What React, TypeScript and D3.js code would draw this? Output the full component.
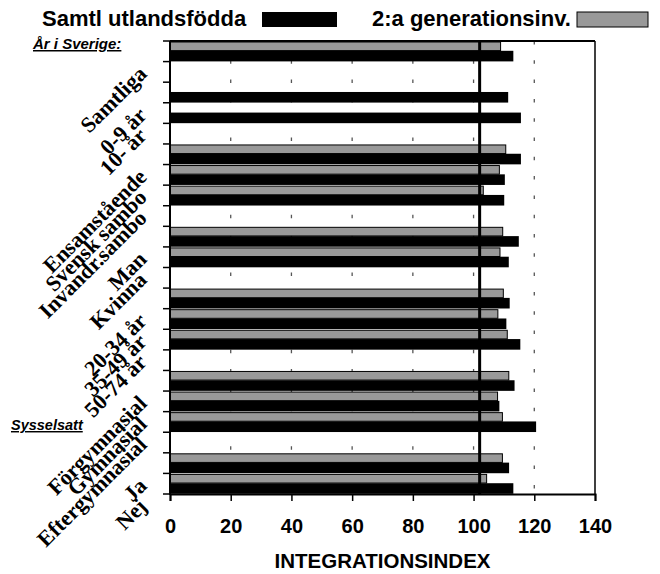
import { useRef, useEffect } from 'react'
import * as d3 from 'd3'

// Categories top to bottom; empty strings are the gaps between groups
const categories = [
  'Samtliga', '', '0-9 år', '10- år', '',
  'Ensamstående', 'Svensk sambo', 'Invandr.sambo', '',
  'Man', 'Kvinna', '',
  '20-34 år', '35-49 år', '50-74 år', '',
  'Förgymnasial', 'Gymnasial', 'Eftergymnasial', '',
  'Ja', 'Nej'
]

// Samtl utlandsfödda (black)
const foreignBorn: (number | null)[] = [
  113.1, null, 111.4, 115.6, null,
  115.6, 110.3, 110.1, null,
  114.9, 111.6, null,
  111.9, 110.8, 115.4, null,
  113.5, 108.5, 120.6, null,
  111.7, 113.1
]

// 2:a generationsinv. (gray)
const secondGen: (number | null)[] = [
  108.9, null, null, null, null,
  110.6, 108.5, 103.2, null,
  109.6, 108.7, null,
  109.8, 108.0, 111.1, null,
  111.6, 107.9, 109.5, null,
  109.5, 104.3
]

const xTicks = [0, 20, 40, 60, 80, 100, 120, 140]
const gridValues = [20, 40, 60, 80, 100, 120]
const referenceValue = 102

const W = 660
const H = 574
const margin = { top: 41, right: 65, bottom: 80, left: 170 }

export default function App() {
  const svgRef = useRef<SVGSVGElement>(null)

  useEffect(() => {
    if (!svgRef.current) return
    const svg = d3.select(svgRef.current)
    svg.selectAll('*').remove()

    const x = d3.scaleLinear().domain([0, 140]).range([margin.left, W - margin.right])
    const y = d3.scaleBand<number>()
      .domain(d3.range(categories.length))
      .range([margin.top, H - margin.bottom])
      .padding(0)
    const bw = y.bandwidth()
    const top = margin.top
    const bottom = H - margin.bottom

    // dashed grid
    svg.append('g')
      .selectAll('line')
      .data(gridValues)
      .enter()
      .append('line')
      .attr('x1', d => x(d))
      .attr('x2', d => x(d))
      .attr('y1', top)
      .attr('y2', bottom)
      .attr('stroke', '#555')
      .attr('stroke-width', 1.3)
      .attr('stroke-dasharray', '3.5,15.8')

    // gray bars
    svg.append('g')
      .selectAll('rect')
      .data(secondGen.map((v, i) => ({ v, i })).filter(d => d.v != null))
      .enter()
      .append('rect')
      .attr('x', x(0))
      .attr('y', d => (y(d.i) as number) + 1)
      .attr('width', d => x(d.v as number) - x(0))
      .attr('height', 8.6)
      .attr('fill', '#999999')
      .attr('stroke', '#000')
      .attr('stroke-width', 1)

    // black bars
    svg.append('g')
      .selectAll('rect')
      .data(foreignBorn.map((v, i) => ({ v, i })).filter(d => d.v != null))
      .enter()
      .append('rect')
      .attr('x', x(0))
      .attr('y', d => (y(d.i) as number) + 9.8)
      .attr('width', d => x(d.v as number) - x(0))
      .attr('height', 10.6)
      .attr('fill', '#000')

    // reference line
    svg.append('line')
      .attr('x1', x(referenceValue))
      .attr('x2', x(referenceValue))
      .attr('y1', top)
      .attr('y2', bottom)
      .attr('stroke', '#000')
      .attr('stroke-width', 3)

    // frame
    svg.append('line').attr('x1', x(0)).attr('x2', x(140)).attr('y1', top).attr('y2', top)
      .attr('stroke', '#000').attr('stroke-width', 2)
    svg.append('line').attr('x1', x(140)).attr('x2', x(140)).attr('y1', top).attr('y2', bottom)
      .attr('stroke', '#000').attr('stroke-width', 1.5)
    svg.append('line').attr('x1', x(0)).attr('x2', x(0)).attr('y1', top).attr('y2', bottom + 1)
      .attr('stroke', '#000').attr('stroke-width', 2)

    // left ticks at category boundaries
    svg.append('g')
      .selectAll('line')
      .data(d3.range(categories.length + 1))
      .enter()
      .append('line')
      .attr('x1', x(0) - 7)
      .attr('x2', x(0))
      .attr('y1', d => top + d * bw)
      .attr('y2', d => top + d * bw)
      .attr('stroke', '#000')
      .attr('stroke-width', 1.5)

    // bottom axis
    const xAxis = d3.axisBottom(x)
      .tickValues(xTicks)
      .tickSize(7)
      .tickPadding(17.8)
      .tickFormat(d => String(d))
    const ax = svg.append('g')
      .attr('transform', `translate(0,${bottom})`)
      .call(xAxis as any)
    ax.select('.domain').attr('stroke', '#000').attr('stroke-width', 2)
    ax.selectAll('.tick line').attr('stroke', '#000').attr('stroke-width', 1.5)
    ax.selectAll('.tick text')
      .attr('fill', '#000')
      .attr('font-family', '"Liberation Sans", Arial, sans-serif')
      .attr('font-weight', 'bold')
      .attr('font-size', 20)

    svg.append('text')
      .attr('x', (x(0) + x(140)) / 2)
      .attr('y', 568)
      .attr('text-anchor', 'middle')
      .attr('font-family', '"Liberation Sans", Arial, sans-serif')
      .attr('font-weight', 'bold')
      .attr('font-size', 20.5)
      .text('INTEGRATIONSINDEX')

    // category labels, rotated
    svg.append('g')
      .selectAll('text')
      .data(categories.map((c, i) => ({ c, i })).filter(d => d.c !== ''))
      .enter()
      .append('text')
      .attr('transform', d => `translate(148,${(y(d.i) as number) + bw / 2 + 24}) rotate(-45)`)
      .attr('text-anchor', 'end')
      .attr('font-family', '"Liberation Serif", "Times New Roman", serif')
      .attr('font-weight', 'bold')
      .attr('font-size', 22)
      .text(d => d.c)

    // group captions
    svg.append('text')
      .attr('x', 33)
      .attr('y', 49)
      .attr('font-family', '"Liberation Sans", Arial, sans-serif')
      .attr('font-weight', 'bold')
      .attr('font-style', 'italic')
      .attr('font-size', 15)
      .attr('text-decoration', 'underline')
      .text('År i Sverige:')

    svg.append('text')
      .attr('x', 11)
      .attr('y', 430)
      .attr('font-family', '"Liberation Sans", Arial, sans-serif')
      .attr('font-weight', 'bold')
      .attr('font-style', 'italic')
      .attr('font-size', 14.5)
      .attr('text-decoration', 'underline')
      .text('Sysselsatt')

    // legend
    const legend = svg.append('g')
      .attr('font-family', '"Liberation Sans", Arial, sans-serif')
      .attr('font-weight', 'bold')
      .attr('font-size', 22)
    legend.append('text').attr('x', 42).attr('y', 26).text('Samtl utlandsfödda')
    legend.append('rect').attr('x', 262).attr('y', 12).attr('width', 75).attr('height', 15)
      .attr('fill', '#000')
    legend.append('text').attr('x', 372).attr('y', 26).text('2:a generationsinv.')
    legend.append('rect').attr('x', 577).attr('y', 12).attr('width', 71).attr('height', 15)
      .attr('fill', '#999999').attr('stroke', '#000').attr('stroke-width', 1)
  }, [])

  return (
    <svg
      ref={svgRef}
      width={W}
      height={H}
      style={{ position: 'absolute', left: 0, top: 0, background: '#fff' }}
    />
  )
}
